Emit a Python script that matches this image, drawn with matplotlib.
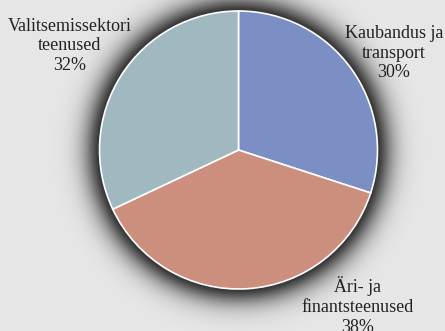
import matplotlib
matplotlib.use("Agg")
import matplotlib.pyplot as plt
import numpy as np

# sector shares, %
sectors = ["Kaubandus ja\ntransport", "Äri- ja\nfinantsteenused", "Valitsemissektori\nteenused"]
shares = [30, 38, 32]
colors = ["#7b8fc4", "#cc8f7e", "#a0b8c0"]

W, H = 445, 331
bg = "#e6e6e6"
cx, cy, R = 238.5, H - 150, 139

fig = plt.figure(figsize=(W / 100, H / 100), dpi=100, facecolor=bg)
ax = fig.add_axes([0, 0, 1, 1])
ax.set_facecolor(bg)

# soft dark halo behind the pie
xx, yy = np.meshgrid(np.arange(W) + 0.5, np.arange(H) + 0.5)
d = np.hypot(xx - cx, yy - cy) - R
halo = np.where(d > 0, np.exp(-(np.clip(d, 0, None) / 16.0) ** 1.5), 1.0)
rgba = np.zeros((H, W, 4))
rgba[..., 3] = 0.78 * halo
ax.imshow(rgba, extent=(0, W, 0, H), origin="lower", zorder=0)

wedges, _ = ax.pie(shares, colors=colors, startangle=90, counterclock=False,
                   center=(cx, cy), radius=R,
                   wedgeprops=dict(edgecolor="white", linewidth=1.2))
for w in wedges:
    w.set_zorder(2)

# label positions (pixels from top-left)
label_pos = [(394, 53), (358, 306), (70, 46)]
for name, val, (px, py) in zip(sectors, shares, label_pos):
    ax.text(px, H - py, f"{name}\n{val}%", ha="center", va="center",
            fontsize=13, family="Liberation Serif", color="#222222",
            linespacing=1.22, zorder=3)

ax.set_xlim(0, W)
ax.set_ylim(0, H)
ax.set_aspect("auto")
ax.axis("off")
fig.savefig("out.png", dpi=100, facecolor=bg)
